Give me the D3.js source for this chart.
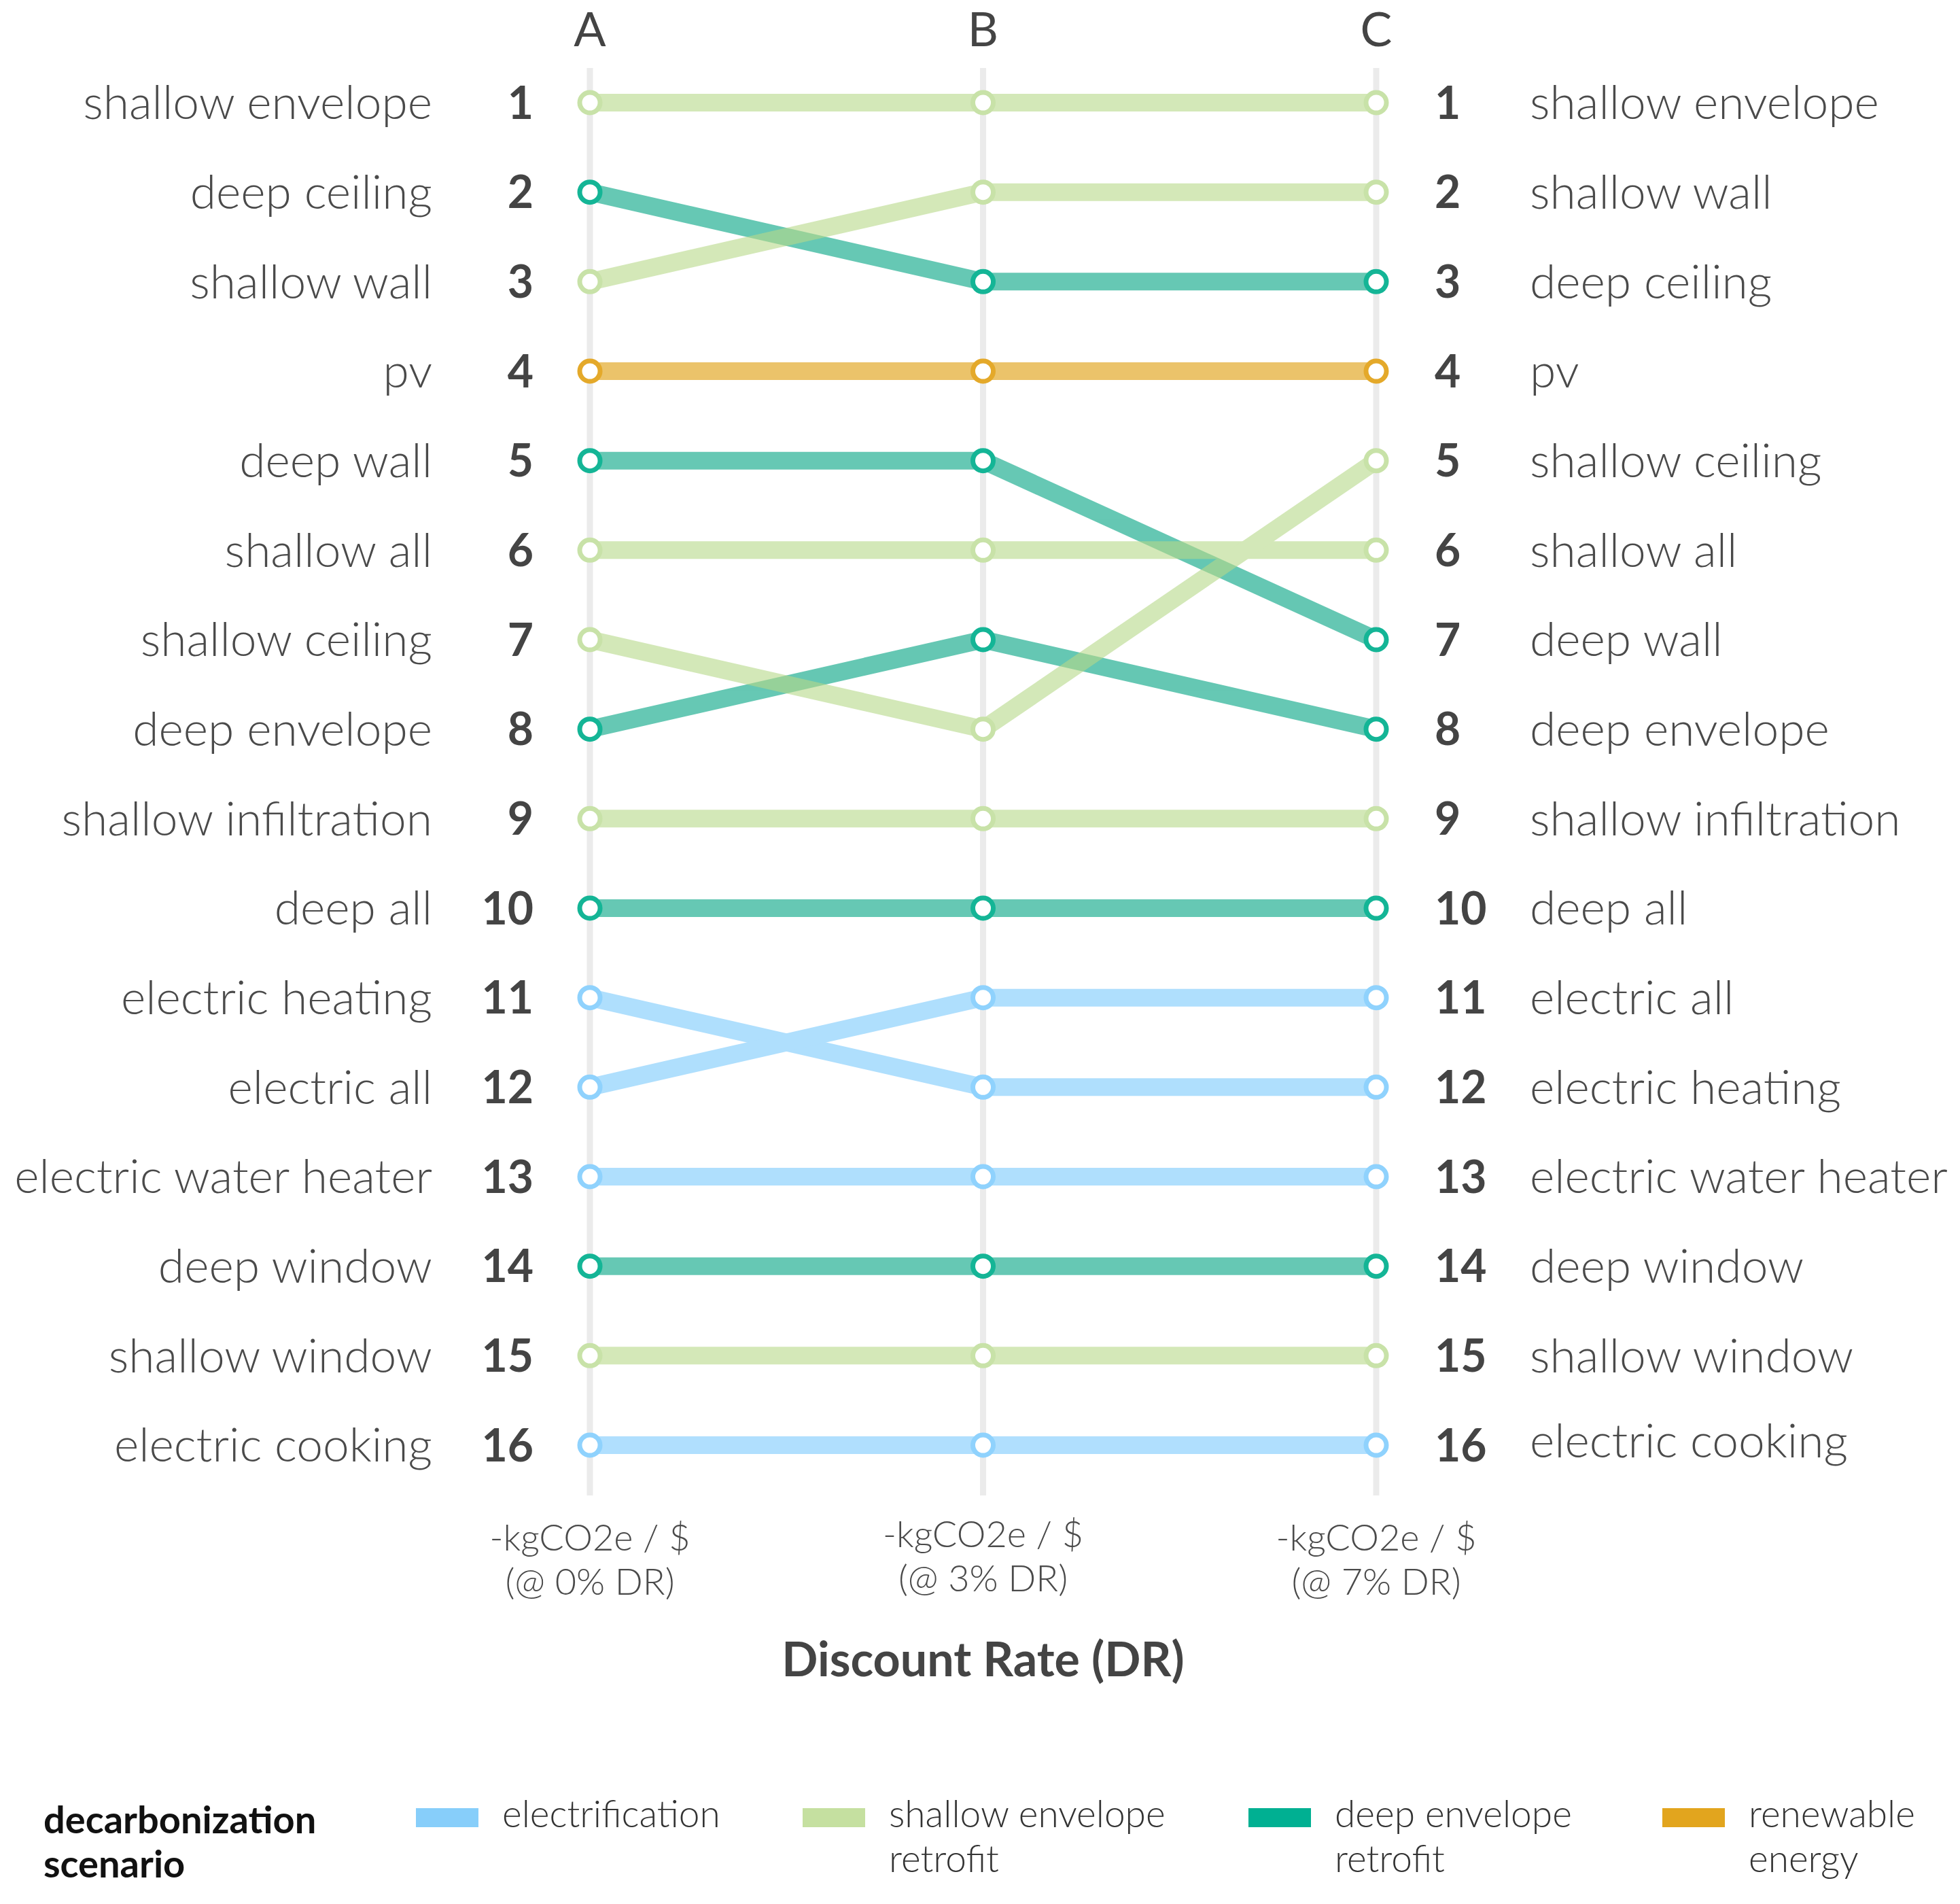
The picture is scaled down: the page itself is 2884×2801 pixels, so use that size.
<!DOCTYPE html>
<html>
<head>
<meta charset="utf-8">
<script src="https://cdn.jsdelivr.net/npm/d3@7"></script>
<style>
  body { margin: 0; background: #fff; }
  text { font-family: Lato, "Open Sans", sans-serif; }
</style>
</head>
<body>
<div id="container"></div>
<script>
/* DATA */
const measures = ["shallow envelope", "deep ceiling", "shallow wall", "pv", "deep wall",
  "shallow all", "shallow ceiling", "deep envelope", "shallow infiltration", "deep all",
  "electric heating", "electric all", "electric water heater", "deep window",
  "shallow window", "electric cooking"];
const scenarioOf = ["shallow", "deep", "shallow", "renewable", "deep",
  "shallow", "shallow", "deep", "shallow", "deep",
  "electric", "electric", "electric", "deep",
  "shallow", "electric"];
const rankA = [1, 2, 3, 4, 5, 6, 7, 8, 9, 10, 11, 12, 13, 14, 15, 16];
const rankB = [1, 3, 2, 4, 5, 6, 8, 7, 9, 10, 12, 11, 13, 14, 15, 16];
const rankC = [1, 3, 2, 4, 7, 6, 5, 8, 9, 10, 12, 11, 13, 14, 15, 16];

const columns = ["A", "B", "C"];
const columnLabels = [["-kgCO2e / $", "(@ 0% DR)"], ["-kgCO2e / $", "(@ 3% DR)"], ["-kgCO2e / $", "(@ 7% DR)"]];

const scenarioKeys = ["electric", "shallow", "deep", "renewable"];
const scenarioNames = [["electrification"], ["shallow envelope", "retrofit"], ["deep envelope", "retrofit"], ["renewable", "energy"]];

/* CONSTANTS */
const width = 2884, height = 2801;
const lineColor = { electric: "#7bcafd", shallow: "#b7d989", deep: "#00a382", renewable: "#de9b07" };
const dotColor = { electric: "#8fd2fd", shallow: "#c8e2a8", deep: "#14b596", renewable: "#e4a92a" };
const swatchColor = { electric: "#87cefa", shallow: "#c5e0a0", deep: "#00b092", renewable: "#e2a51e" };

const svg = d3.select("#container")
  .append("svg")
  .attr("width", width)
  .attr("height", height);

svg.append("rect").attr("width", width).attr("height", height).attr("fill", "#fff");

// scales
const x = d3.scalePoint().domain(columns).range([868, 2025]);
const y = d3.scaleLinear().domain([1, 16]).range([151, 2126]);

const data = measures.map((m, i) => ({
  name: m,
  scenario: scenarioOf[i],
  ranks: [rankA[i], rankB[i], rankC[i]]
}));

// vertical guide lines
svg.selectAll(".guide")
  .data(columns)
  .join("line")
  .attr("x1", d => x(d)).attr("x2", d => x(d))
  .attr("y1", 100).attr("y2", 2200)
  .attr("stroke", "#ebebeb")
  .attr("stroke-width", 9);

// column letters
svg.selectAll(".col-letter")
  .data(columns)
  .join("text")
  .attr("x", d => x(d))
  .attr("y", 68)
  .attr("text-anchor", "middle")
  .attr("fill", "#444")
  .style("font-size", "70px")
  .text(d => d);

// slope lines, grouped by scenario so same-colour overlaps don't darken
const line = d3.line()
  .x((r, j) => x(columns[j]))
  .y(r => y(r));

["electric", "deep", "shallow", "renewable"].forEach(s => {
  svg.append("g")
    .attr("opacity", 0.6)
    .selectAll("path")
    .data(data.filter(d => d.scenario === s))
    .join("path")
    .attr("d", d => line(d.ranks))
    .attr("fill", "none")
    .attr("stroke", lineColor[s])
    .attr("stroke-width", 26);
});

// dots
data.forEach(d => {
  svg.append("g")
    .selectAll("circle")
    .data(d.ranks)
    .join("circle")
    .attr("cx", (r, j) => x(columns[j]))
    .attr("cy", r => y(r))
    .attr("r", 15)
    .attr("fill", "#fff")
    .attr("stroke", dotColor[d.scenario])
    .attr("stroke-width", 7);
});

// left side: labels + rank numbers
svg.selectAll(".left-label")
  .data(data)
  .join("text")
  .attr("x", 636)
  .attr("y", d => y(d.ranks[0]))
  .attr("dy", "0.35em")
  .attr("text-anchor", "end")
  .attr("fill", "#4a4a4a")
  .style("font-size", "69.5px")
  .style("font-weight", 300)
  .text(d => d.name);

svg.selectAll(".left-num")
  .data(rankA)
  .join("text")
  .attr("x", 785)
  .attr("y", d => y(d))
  .attr("dy", "0.36em")
  .attr("text-anchor", "end")
  .attr("fill", "#444")
  .style("font-size", "66px")
  .style("font-weight", 700)
  .text(d => d);

// right side
svg.selectAll(".right-num")
  .data(rankC)
  .join("text")
  .attr("x", 2111)
  .attr("y", d => y(d))
  .attr("dy", "0.36em")
  .attr("fill", "#444")
  .style("font-size", "66px")
  .style("font-weight", 700)
  .text(d => d);

svg.selectAll(".right-label")
  .data(data)
  .join("text")
  .attr("x", 2251)
  .attr("y", d => y(d.ranks[2]) - (d.ranks[2] === 16 ? 6 : 0))
  .attr("dy", "0.35em")
  .attr("fill", "#4a4a4a")
  .style("font-size", "69.5px")
  .style("font-weight", 300)
  .text(d => d.name);

// bottom column labels
columns.forEach((c, j) => {
  const off = c === "B" ? -5 : 0;
  svg.append("text")
    .attr("x", x(c))
    .attr("y", 2281 + off)
    .attr("text-anchor", "middle")
    .attr("fill", "#4a4a4a")
    .style("font-size", "54px")
    .style("font-weight", 300)
    .selectAll("tspan")
    .data(columnLabels[j])
    .join("tspan")
    .attr("x", x(c))
    .attr("dy", (d, i) => i === 0 ? 0 : 65)
    .text(d => d);
});

// axis title
svg.append("text")
  .attr("x", x("B"))
  .attr("y", 2466)
  .attr("text-anchor", "middle")
  .attr("fill", "#444")
  .style("font-size", "70px")
  .style("font-weight", 700)
  .text("Discount Rate (DR)");

// legend
svg.append("text")
  .attr("x", 64)
  .attr("y", 2697)
  .attr("fill", "#111")
  .style("font-size", "56px")
  .style("font-weight", 700)
  .selectAll("tspan")
  .data(["decarbonization", "scenario"])
  .join("tspan")
  .attr("x", 64)
  .attr("dy", (d, i) => i === 0 ? 0 : 65)
  .text(d => d);

const legendX = [612, 1181, 1837, 2446];
scenarioKeys.forEach((s, i) => {
  svg.append("rect")
    .attr("x", legendX[i])
    .attr("y", 2660)
    .attr("width", 92)
    .attr("height", 28)
    .attr("fill", swatchColor[s]);
  svg.append("text")
    .attr("x", legendX[i] + 127)
    .attr("y", 2688)
    .attr("fill", "#333")
    .style("font-size", "55px")
    .style("font-weight", 300)
    .selectAll("tspan")
    .data(scenarioNames[i])
    .join("tspan")
    .attr("x", legendX[i] + 127)
    .attr("dy", (d, k) => k === 0 ? 0 : 66)
    .text(d => d);
});
</script>
</body>
</html>
